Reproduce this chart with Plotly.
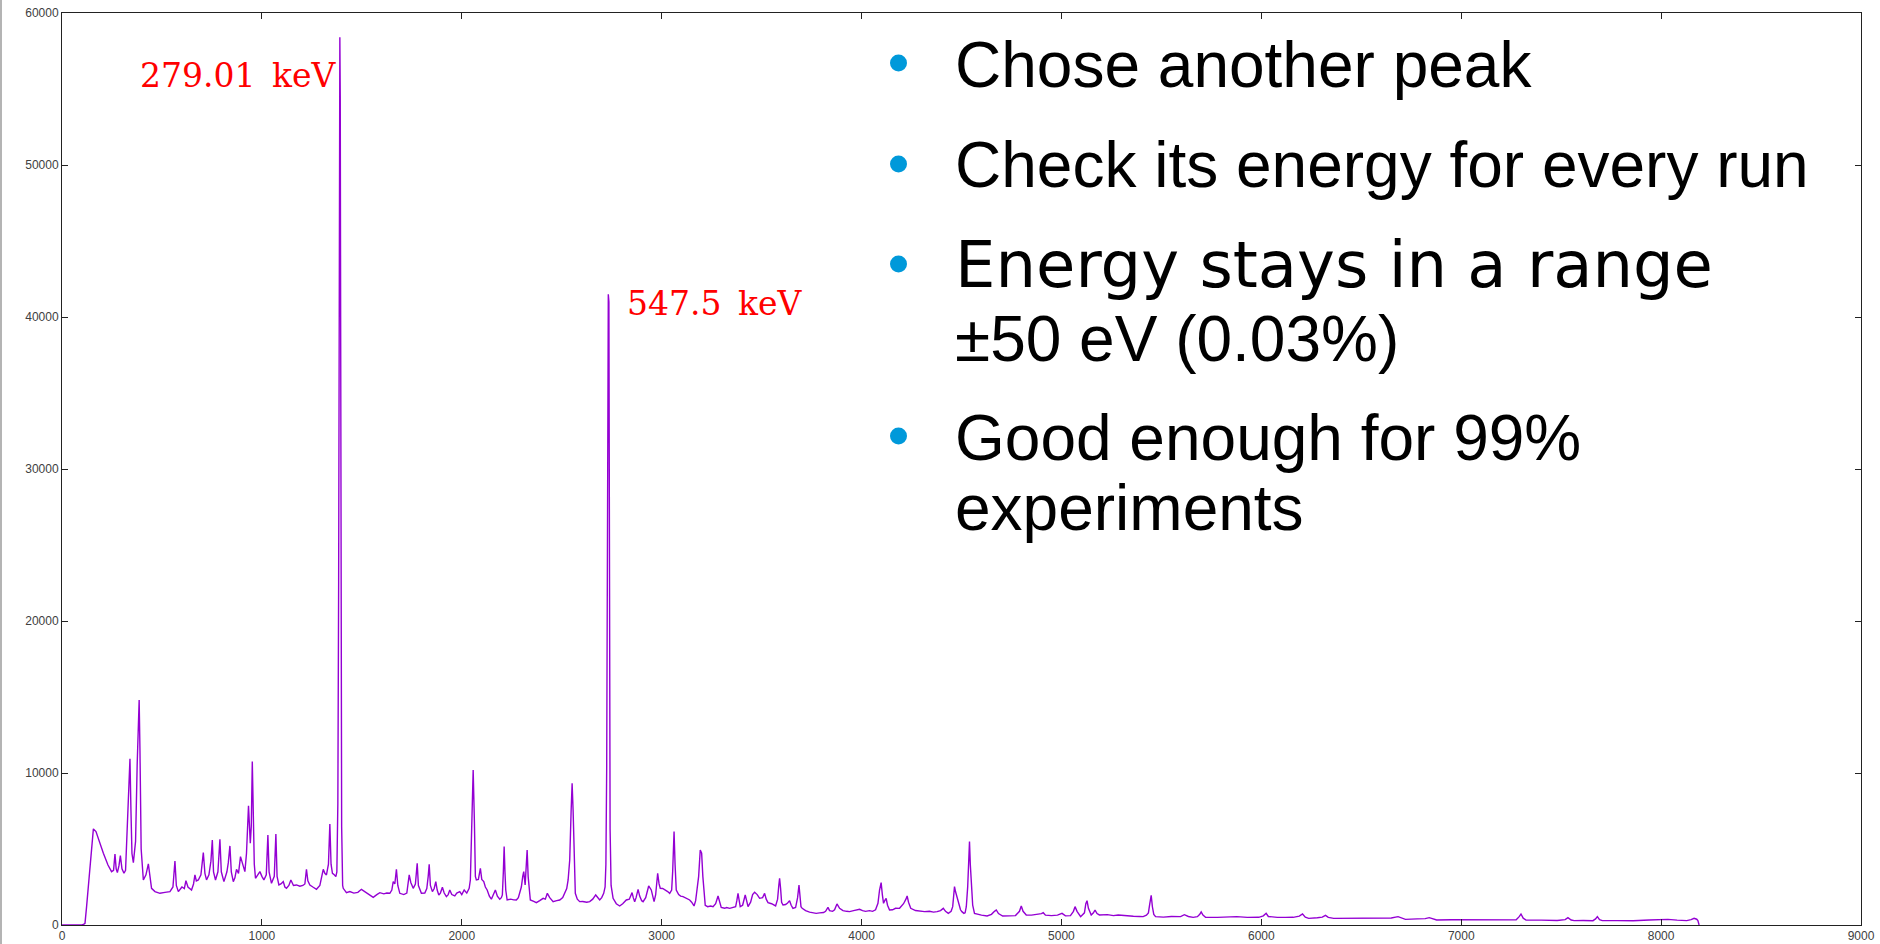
import plotly.graph_objects as go

# Gamma spectrum: counts per ADC channel
channel = [
    0, 100, 110, 115, 123, 137, 145, 152, 157, 170, 185, 207, 230, 248, 258, 265, 271, 277, 285, 292,
    300, 310, 318, 326, 333, 340, 345, 350, 357, 368, 376, 382, 386, 390, 396, 407, 420, 432, 440, 448,
    465, 490, 515, 540, 555, 565, 572, 582, 600, 612, 620, 630, 648, 658, 665, 672, 682, 695, 707, 715,
    723, 735, 745, 752, 758, 768, 780, 790, 797, 810, 825, 832, 840, 847, 857, 865, 873, 883, 893, 905,
    915, 923, 933, 942, 947, 952, 957, 962, 968, 980, 990, 1000, 1010, 1022, 1030, 1036, 1048, 1062, 1070, 1076,
    1085, 1095, 1107, 1115, 1123, 1135, 1145, 1158, 1173, 1190, 1205, 1215, 1223, 1230, 1240, 1255, 1273, 1290, 1300, 1307,
    1315, 1323, 1333, 1340, 1346, 1353, 1362, 1370, 1375, 1380, 1384, 1387, 1389, 1390, 1392, 1394, 1396, 1399, 1404, 1407,
    1423, 1440, 1460, 1480, 1498, 1515, 1530, 1557, 1575, 1590, 1610, 1625, 1640, 1650, 1657, 1665, 1673, 1680, 1690, 1710,
    1725, 1730, 1737, 1745, 1757, 1768, 1777, 1783, 1798, 1815, 1825, 1832, 1837, 1843, 1853, 1862, 1870, 1877, 1885, 1893,
    1903, 1912, 1923, 1932, 1940, 1950, 1965, 1975, 1990, 2000, 2012, 2025, 2037, 2043, 2050, 2057, 2063, 2068, 2073, 2083,
    2093, 2100, 2110, 2118, 2127, 2138, 2148, 2158, 2168, 2178, 2190, 2198, 2203, 2208, 2212, 2216, 2220, 2227, 2245, 2260,
    2273, 2283, 2290, 2298, 2305, 2310, 2317, 2322, 2327, 2332, 2338, 2343, 2360, 2373, 2390, 2407, 2418, 2428, 2440, 2457,
    2475, 2490, 2505, 2515, 2525, 2532, 2540, 2547, 2552, 2557, 2562, 2568, 2578, 2590, 2605, 2625, 2640, 2655, 2670, 2680,
    2690, 2700, 2710, 2717, 2721, 2725, 2729, 2733, 2736, 2739, 2742, 2747, 2757, 2773, 2790, 2805, 2823, 2838, 2852, 2858,
    2865, 2872, 2882, 2890, 2900, 2907, 2920, 2930, 2935, 2948, 2955, 2962, 2970, 2975, 2980, 2987, 2993, 3005, 3020, 3030,
    3040, 3050, 3055, 3062, 3067, 3073, 3085, 3095, 3107, 3122, 3140, 3150, 3162, 3170, 3178, 3185, 3193, 3200, 3206, 3212,
    3218, 3230, 3245, 3257, 3270, 3282, 3290, 3298, 3315, 3325, 3340, 3355, 3370, 3376, 3382, 3388, 3393, 3405, 3412, 3418,
    3425, 3432, 3445, 3455, 3465, 3478, 3490, 3505, 3515, 3523, 3532, 3550, 3570, 3580, 3586, 3590, 3595, 3600, 3607, 3620,
    3630, 3640, 3648, 3657, 3670, 3680, 3687, 3692, 3697, 3703, 3720, 3740, 3757, 3773, 3790, 3810, 3820, 3832, 3840, 3855,
    3865, 3877, 3890, 3907, 3925, 3940, 3960, 3975, 3990, 4005, 4020, 4040, 4055, 4070, 4078, 4082, 4090, 4098, 4104, 4110,
    4116, 4123, 4130, 4140, 4155, 4170, 4190, 4210, 4222, 4228, 4235, 4246, 4270, 4290, 4315, 4340, 4360, 4378, 4395, 4409,
    4420, 4434, 4448, 4456, 4465, 4470, 4477, 4485, 4495, 4502, 4512, 4518, 4524, 4531, 4536, 4540, 4544, 4549, 4556, 4565,
    4580, 4600, 4628, 4650, 4665, 4674, 4685, 4706, 4740, 4770, 4790, 4799, 4808, 4824, 4850, 4880, 4900, 4909, 4920, 4950,
    4980, 5003, 5020, 5045, 5060, 5068, 5078, 5096, 5115, 5122, 5128, 5135, 5149, 5160, 5168, 5178, 5190, 5230, 5260, 5284,
    5320, 5360, 5390, 5409, 5425, 5435, 5442, 5449, 5455, 5462, 5471, 5510, 5550, 5596, 5615, 5635, 5659, 5680, 5692, 5699,
    5708, 5721, 5780, 5830, 5877, 5930, 5987, 6010, 6024, 6035, 6080, 6120, 6159, 6190, 6206, 6220, 6237, 6280, 6305, 6321,
    6335, 6362, 6420, 6480, 6534, 6600, 6650, 6684, 6700, 6721, 6780, 6820, 6840, 6855, 6877, 6950, 7020, 7090, 7159, 7230,
    7275, 7290, 7299, 7310, 7324, 7400, 7480, 7520, 7534, 7550, 7565, 7610, 7659, 7672, 7681, 7692, 7706, 7780, 7860, 7940,
    7990, 8034, 8080, 8128, 8150, 8165, 8178, 8184, 8190,
]

counts = [
    0, 0, 50, 110, 1207, 3402, 4939, 6100, 6322, 6146, 5500, 4719, 3950, 3512, 3600, 4675, 3700, 3446, 3900, 4566,
    3700, 3402, 3600, 6400, 9300, 10931, 7500, 4700, 4105, 5500, 10500, 13600, 14800, 11500, 5000, 2963, 3300, 4017, 3000, 2414,
    2200, 2085, 2150, 2195, 2500, 4214, 2600, 2195, 2500, 2400, 2919, 2500, 2305, 2700, 3292, 2900, 2963, 3300, 4763, 3400,
    2963, 3300, 4200, 5597, 3500, 2963, 3500, 5641, 3500, 2853, 3500, 4100, 5202, 3500, 2853, 3100, 3666, 3400, 4500, 4000,
    3512, 4719, 7836, 5378, 6500, 10755, 7572, 4000, 3073, 3300, 3512, 3200, 2963, 3300, 5927, 3500, 2744, 3200, 5992, 3200,
    2634, 2700, 2853, 2500, 2414, 2600, 2963, 2600, 2634, 2550, 2600, 2700, 3666, 2900, 2634, 2500, 2349, 2600, 3300, 3666,
    3400, 3292, 4000, 6651, 4000, 3402, 3300, 3183, 3500, 8000, 22600, 40000, 54500, 58400, 54500, 40000, 22600, 6500, 2600, 2414,
    2129, 2200, 2100, 2150, 2349, 2200, 2050, 1822, 2000, 2129, 2050, 2100, 2085, 2300, 2853, 2700, 3666, 2600, 2085, 2000,
    2100, 2500, 3292, 2800, 2414, 2700, 4061, 2600, 2085, 2100, 2400, 3200, 3995, 2600, 2195, 2400, 2853, 2300, 1976, 2100,
    2480, 2100, 1866, 2000, 2305, 2000, 1910, 2100, 2195, 2000, 2300, 2100, 2414, 2963, 7353, 10200, 6914, 3200, 2963, 3000,
    3732, 3000, 2853, 2500, 2305, 1900, 1700, 2000, 2305, 1900, 1700, 1800, 1976, 3500, 5158, 3500, 2300, 1646, 1700, 1650,
    1646, 1800, 2195, 2500, 3200, 3512, 2634, 3500, 4939, 3200, 2000, 1646, 1550, 1471, 1600, 1756, 1700, 2085, 1800, 1536,
    1600, 1646, 1800, 2085, 2400, 2963, 4280, 7500, 9329, 7500, 4500, 2085, 1700, 1536, 1550, 1500, 1536, 1700, 1976, 1800,
    1646, 1800, 2085, 2500, 4000, 10400, 29700, 41500, 41000, 29700, 6300, 2600, 1756, 1400, 1251, 1400, 1646, 1700, 2129, 1800,
    1536, 1800, 2349, 1900, 1600, 1536, 1800, 2300, 2568, 2305, 2000, 1536, 2000, 2800, 3402, 2700, 2414, 2400, 2300, 2200,
    2085, 2300, 3500, 6146, 4000, 2305, 2000, 1900, 1866, 1750, 1646, 1500, 1251, 1600, 2400, 3200, 4939, 4719, 3200, 2085,
    1300, 1207, 1250, 1207, 1400, 1910, 1500, 1163, 1100, 1150, 1097, 1150, 1200, 1600, 2085, 1600, 1207, 1300, 1700, 1976,
    1600, 1207, 1500, 2000, 2151, 2000, 1756, 1800, 2085, 1700, 1471, 1400, 1251, 1700, 2600, 3073, 2400, 1500, 1317, 1350,
    1450, 1602, 1300, 1097, 1150, 1800, 2634, 1800, 1200, 1097, 950, 850, 800, 768, 800, 820, 900, 1163, 950, 900,
    1000, 1383, 1100, 944, 900, 880, 950, 1000, 1032, 950, 900, 944, 900, 1000, 1300, 1427, 2300, 2788, 2000, 1427,
    1600, 1756, 1300, 988, 1000, 1100, 1097, 1400, 1700, 1910, 1500, 1097, 950, 900, 878, 900, 850, 878, 950, 1097,
    900, 768, 900, 1207, 2524, 2200, 1866, 1500, 1000, 878, 768, 800, 1200, 2524, 4000, 5487, 4000, 2524, 1300, 768,
    700, 650, 593, 700, 900, 988, 750, 593, 600, 620, 900, 1251, 900, 659, 650, 700, 750, 812, 650, 620,
    650, 768, 600, 620, 900, 1207, 900, 549, 800, 1400, 1602, 1100, 659, 800, 988, 750, 659, 680, 620, 659,
    600, 580, 560, 549, 650, 800, 1400, 1954, 1200, 700, 549, 520, 560, 549, 680, 560, 505, 550, 700, 856,
    650, 505, 500, 520, 549, 500, 505, 600, 768, 560, 500, 500, 505, 580, 724, 520, 439, 480, 520, 637,
    500, 439, 450, 440, 439, 450, 460, 549, 450, 373, 400, 420, 483, 400, 329, 350, 340, 330, 329, 320,
    340, 550, 724, 450, 329, 320, 300, 350, 483, 330, 285, 300, 285, 400, 549, 350, 285, 290, 280, 329,
    330, 373, 320, 285, 350, 439, 380, 285, 0,
]

x_ticks = [0, 1000, 2000, 3000, 4000, 5000, 6000, 7000, 8000, 9000]
y_ticks = [0, 10000, 20000, 30000, 40000, 50000, 60000]

peak_labels = ["279.01\u2002keV", "547.5\u2002keV"]

bullet_lines = [
    ("Chose another peak", "Liberation Sans"),
    ("Check its energy for every run", "Liberation Sans"),
    ("Energy stays in a range", "DejaVu Sans"),
    ("±50 eV (0.03%)", "Liberation Sans"),
    ("Good enough for 99%", "Liberation Sans"),
    ("experiments", "Liberation Sans"),
]

W, H = 1880, 944
ML, MR, MT, MB = 62, 19, 13, 19
PW, PH = W - ML - MR, H - MT - MB


def px_to_paper(px, py):
    return (px - ML) / PW, (H - MB - py) / PH


fig = go.Figure()
fig.add_trace(go.Scatter(
    x=channel, y=counts, mode="lines",
    line=dict(color="#9400D3", width=1.4),
    hoverinfo="skip", showlegend=False,
))

annotations = []
# peak energy labels
annotations.append(dict(
    x=1382, y=55900, xref="x", yref="y", text=peak_labels[0],
    xanchor="right", yanchor="middle", showarrow=False,
    font=dict(family="DejaVu Serif", size=33, color="#FF0000"),
))
annotations.append(dict(
    x=2818, y=40900, xref="x", yref="y", text=peak_labels[1],
    xanchor="left", yanchor="middle", showarrow=False,
    font=dict(family="DejaVu Serif", size=33, color="#FF0000"),
))

# bullet list text, one annotation per rendered line
line_centres = [65, 165, 265, 339, 438, 508]
for (txt, fam), cy in zip(bullet_lines, line_centres):
    xp, yp = px_to_paper(952.5, cy)
    annotations.append(dict(
        x=xp, y=yp, xref="paper", yref="paper", text=txt,
        xanchor="left", yanchor="middle", showarrow=False,
        font=dict(family=fam, size=64, color="#000000"),
    ))

shapes = []
# bullet dots
for cy in [63, 164, 264, 436]:
    x0, y0 = px_to_paper(898.5 - 8.5, cy + 8.5)
    x1, y1 = px_to_paper(898.5 + 8.5, cy - 8.5)
    shapes.append(dict(type="circle", xref="paper", yref="paper",
                       x0=x0, y0=y0, x1=x1, y1=y1,
                       fillcolor="#0099DA", line=dict(width=0)))
# grey frame line on the left edge of the page
gx, gy0 = px_to_paper(1, H)
_, gy1 = px_to_paper(1, 0)
shapes.append(dict(type="line", xref="paper", yref="paper",
                   x0=gx, x1=gx, y0=gy0, y1=gy1,
                   line=dict(color="#B4B4B4", width=2)))

axis_common = dict(
    showline=True, linecolor="#222222", linewidth=1, mirror="ticks",
    ticks="inside", ticklen=6, tickwidth=1, tickcolor="#222222",
    showgrid=False, zeroline=False, automargin=False,
    tickfont=dict(family="Liberation Sans", size=12, color="#404040"),
    tickformat="d",
)

fig.update_layout(
    template="none",
    width=W, height=H,
    margin=dict(l=ML, r=MR, t=MT, b=MB, pad=0),
    paper_bgcolor="white", plot_bgcolor="white",
    xaxis=dict(range=[0, 9000], tickvals=x_ticks, **axis_common),
    yaxis=dict(range=[0, 60000], tickvals=y_ticks, **axis_common),
    annotations=annotations,
    shapes=shapes,
    showlegend=False,
)

fig.write_html("out.html")
